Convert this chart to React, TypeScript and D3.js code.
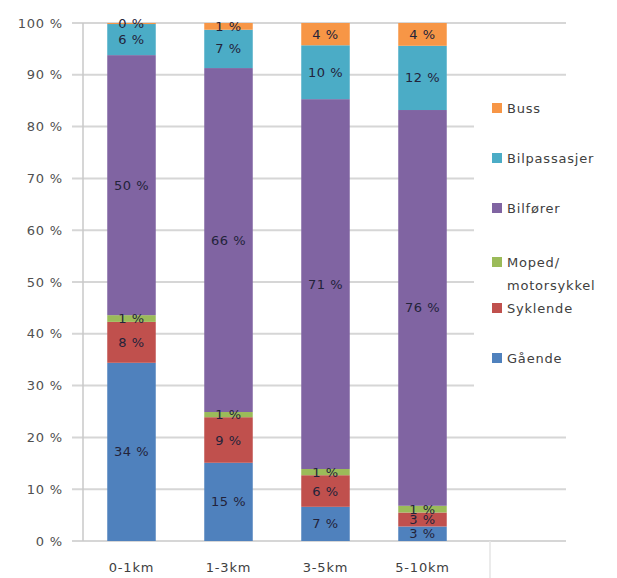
import React from 'react';
import * as d3 from 'd3';

// categories (distance bands) and the share of each travel mode, in percent
const categories = ['0-1km', '1-3km', '3-5km', '5-10km'];
const seriesNames = ['Gående', 'Syklende', 'Moped/ motorsykkel', 'Bilfører', 'Bilpassasjer', 'Buss'];
const gaende = [34.4, 15.1, 6.6, 2.8];
const syklende = [7.9, 8.8, 6.1, 2.7];
const moped = [1.3, 1.0, 1.2, 1.3];
const bilforer = [50.2, 66.4, 71.4, 76.4];
const bilpassasjer = [6.0, 7.4, 10.4, 12.4];
const buss = [0.2, 1.3, 4.3, 4.4];
const colors = ['#4F81BD', '#C0504D', '#9BBB59', '#8064A2', '#4BACC6', '#F79646'];
const yTicks = [0, 10, 20, 30, 40, 50, 60, 70, 80, 90, 100];

const values = [gaende, syklende, moped, bilforer, bilpassasjer, buss];

const App = () => {
  const width = 617;
  const height = 578;
  const top = 23;
  const bottom = 541;
  const left = 83;

  const rows = categories.map((c, i) => {
    const r: Record<string, any> = { cat: c };
    seriesNames.forEach((s, k) => { r[s] = values[k][i]; });
    return r;
  });

  const stacked = d3.stack<any>().keys(seriesNames)(rows);

  const x = d3.scaleBand().domain(categories).range([left, 471]).paddingInner(0.5).paddingOuter(0.25);
  const y = d3.scaleLinear().domain([0, 100]).range([bottom, top]);
  const color = d3.scaleOrdinal<string, string>().domain(seriesNames).range(colors);

  const font = "'DejaVu Sans', sans-serif";

  // legend top-to-bottom is reverse of stack order
  const legendItems = [...seriesNames].reverse();
  const legendY: Record<string, number> = {
    'Buss': 108, 'Bilpassasjer': 158, 'Bilfører': 208,
    'Moped/ motorsykkel': 262, 'Syklende': 308, 'Gående': 358,
  };

  return (
    <svg width={width} height={height} style={{ position: 'absolute', left: 0, top: 0, background: '#fff' }}>
      {/* gridlines */}
      {yTicks.map(t => (
        <line key={t} x1={72} x2={566} y1={y(t)} y2={y(t)} stroke="#d6d6d6" strokeWidth={2} />
      ))}
      <line x1={left} x2={left} y1={top} y2={bottom} stroke="#c8c8c8" strokeWidth={1.5} />
      <line x1={490} x2={490} y1={bottom} y2={578} stroke="#e4e4e4" strokeWidth={1.5} />

      {/* y tick labels */}
      {yTicks.map(t => (
        <text key={t} x={63} y={y(t)} dy="0.35em" textAnchor="end" fontFamily={font} fontSize={13}
          letterSpacing={0.8} fill="#505050">{`${t} %`}</text>
      ))}

      {/* bars */}
      {stacked.map(layer => (
        <g key={layer.key} fill={color(layer.key)}>
          {layer.map((d, i) => (
            <rect key={i} x={x(categories[i])} width={x.bandwidth()} y={y(d[1])} height={y(d[0]) - y(d[1])} />
          ))}
        </g>
      ))}

      {/* segment labels */}
      {stacked.map(layer => (
        <g key={layer.key + '-lbl'}>
          {layer.map((d, i) => (
            <text key={i} x={(x(categories[i]) as number) + x.bandwidth() / 2} y={y((d[0] + d[1]) / 2)} dy="0.35em"
              textAnchor="middle" fontFamily={font} fontSize={13} letterSpacing={0.5} fill="#23233a">
              {`${Math.round(d[1] - d[0])} %`}
            </text>
          ))}
        </g>
      ))}

      {/* category labels */}
      {categories.map(c => (
        <text key={c} x={(x(c) as number) + x.bandwidth() / 2} y={567} dy="0.35em" textAnchor="middle"
          fontFamily={font} fontSize={13} letterSpacing={0.8} fill="#404040">{c}</text>
      ))}

      {/* legend */}
      <rect x={474} y={88} width={143} height={330} fill="#fff" />
      {legendItems.map(s => {
        const cy = legendY[s];
        const lines = s.split(' ');
        return (
          <g key={s}>
            <rect x={492} y={cy - 5} width={10} height={10} fill={color(s)} />
            {lines.map((ln, j) => (
              <text key={j} x={507} y={cy + j * 23} dy="0.35em" fontFamily={font} fontSize={13}
                letterSpacing={0.8} fill="#404040">{ln}</text>
            ))}
          </g>
        );
      })}
    </svg>
  );
};

export default App;
